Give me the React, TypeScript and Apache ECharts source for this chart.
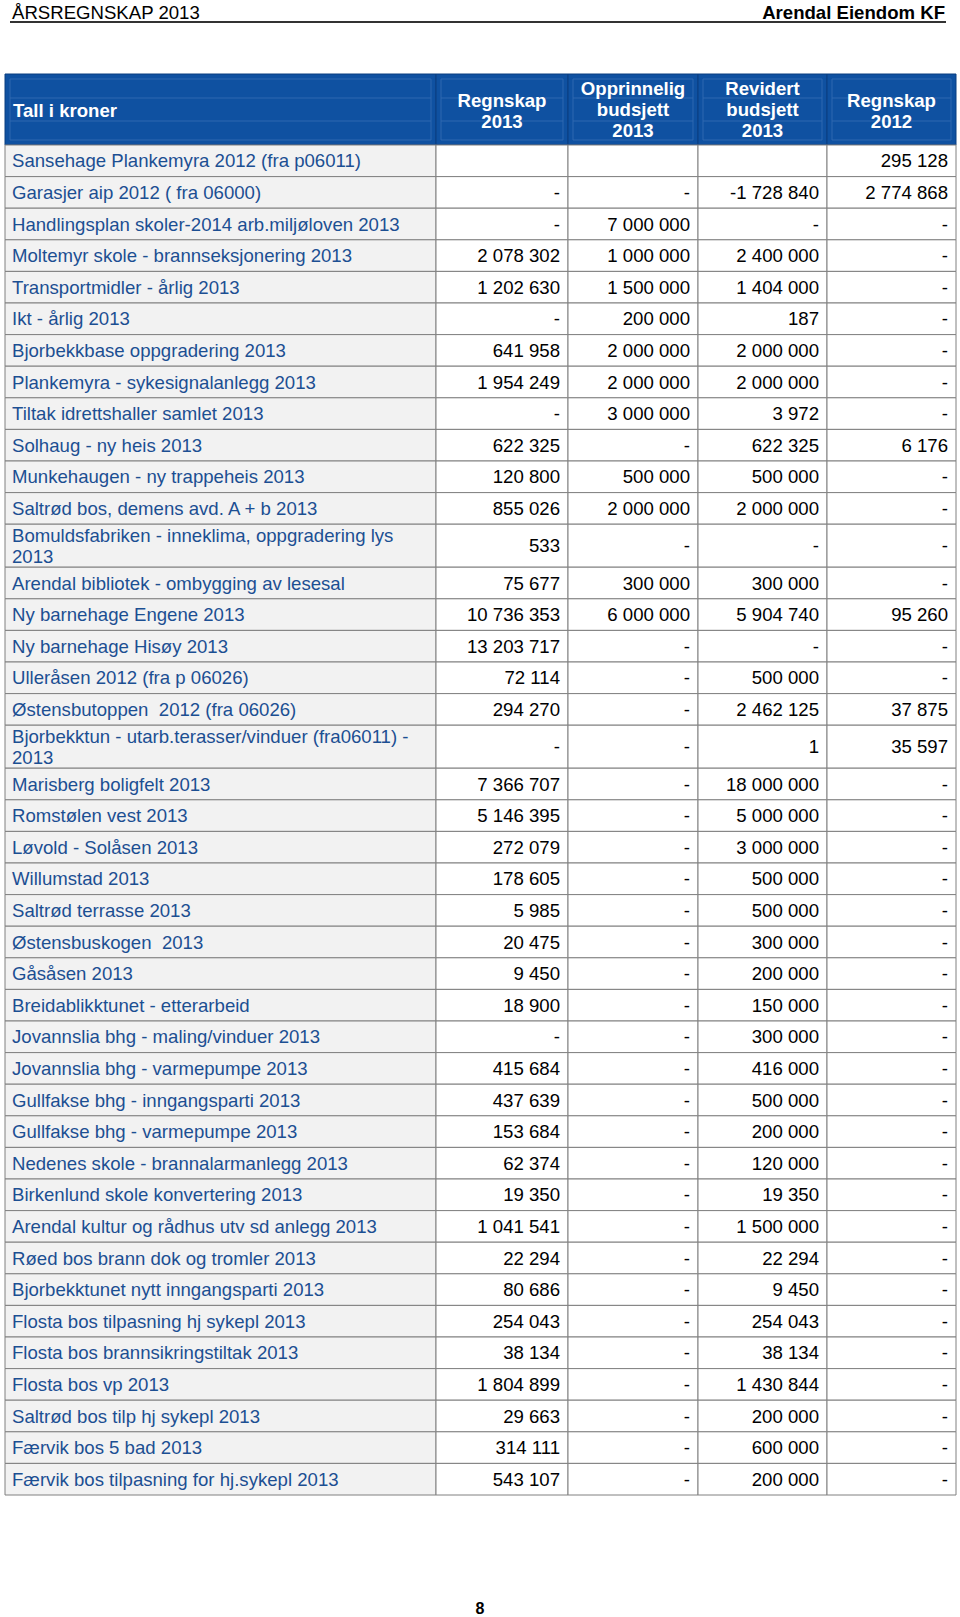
import React, { useEffect, useRef } from "react";
import * as echarts from "echarts";

// ---------- data ----------
const pageTitle = "ÅRSREGNSKAP 2013";
const pageOrg = "Arendal Eiendom KF";
const pageNumber = "8";

const headerLabels = [
  "Tall i kroner",
  "Regnskap\n2013",
  "Opprinnelig\nbudsjett\n2013",
  "Revidert\nbudsjett\n2013",
  "Regnskap\n2012",
];

const rowLabels = [
  "Sansehage Plankemyra 2012 (fra p06011)",
  "Garasjer aip 2012 ( fra 06000)",
  "Handlingsplan skoler-2014 arb.miljøloven 2013",
  "Moltemyr skole - brannseksjonering 2013",
  "Transportmidler - årlig 2013",
  "Ikt - årlig 2013",
  "Bjorbekkbase oppgradering 2013",
  "Plankemyra - sykesignalanlegg 2013",
  "Tiltak idrettshaller samlet 2013",
  "Solhaug - ny heis 2013",
  "Munkehaugen - ny trappeheis 2013",
  "Saltrød bos, demens avd. A + b 2013",
  "Bomuldsfabriken - inneklima, oppgradering lys\n2013",
  "Arendal bibliotek - ombygging av lesesal",
  "Ny barnehage Engene 2013",
  "Ny barnehage Hisøy 2013",
  "Ulleråsen 2012 (fra p 06026)",
  "Østensbutoppen  2012 (fra 06026)",
  "Bjorbekktun - utarb.terasser/vinduer (fra06011) -\n2013",
  "Marisberg boligfelt 2013",
  "Romstølen vest 2013",
  "Løvold - Solåsen 2013",
  "Willumstad 2013",
  "Saltrød terrasse 2013",
  "Østensbuskogen  2013",
  "Gåsåsen 2013",
  "Breidablikktunet - etterarbeid",
  "Jovannslia bhg - maling/vinduer 2013",
  "Jovannslia bhg - varmepumpe 2013",
  "Gullfakse bhg - inngangsparti 2013",
  "Gullfakse bhg - varmepumpe 2013",
  "Nedenes skole - brannalarmanlegg 2013",
  "Birkenlund skole konvertering 2013",
  "Arendal kultur og rådhus utv sd anlegg 2013",
  "Røed bos brann dok og tromler 2013",
  "Bjorbekktunet nytt inngangsparti 2013",
  "Flosta bos tilpasning hj sykepl 2013",
  "Flosta bos brannsikringstiltak 2013",
  "Flosta bos vp 2013",
  "Saltrød bos tilp hj sykepl 2013",
  "Færvik bos 5 bad 2013",
  "Færvik bos tilpasning for hj.sykepl 2013",
];

// null = empty cell, 0 = "-"
const regnskap2013: (number | null)[] = [
  null, 0, 0, 2078302, 1202630, 0, 641958, 1954249, 0, 622325, 120800, 855026,
  533, 75677, 10736353, 13203717, 72114, 294270, 0, 7366707, 5146395, 272079,
  178605, 5985, 20475, 9450, 18900, 0, 415684, 437639, 153684, 62374, 19350,
  1041541, 22294, 80686, 254043, 38134, 1804899, 29663, 314111, 543107,
];

const opprinneligBudsjett2013: (number | null)[] = [
  null, 0, 7000000, 1000000, 1500000, 200000, 2000000, 2000000, 3000000, 0,
  500000, 2000000, 0, 300000, 6000000, 0, 0, 0, 0, 0, 0, 0, 0, 0, 0, 0, 0, 0,
  0, 0, 0, 0, 0, 0, 0, 0, 0, 0, 0, 0, 0, 0,
];

const revidertBudsjett2013: (number | null)[] = [
  null, -1728840, 0, 2400000, 1404000, 187, 2000000, 2000000, 3972, 622325,
  500000, 2000000, 0, 300000, 5904740, 0, 500000, 2462125, 1, 18000000,
  5000000, 3000000, 500000, 500000, 300000, 200000, 150000, 300000, 416000,
  500000, 200000, 120000, 19350, 1500000, 22294, 9450, 254043, 38134, 1430844,
  200000, 600000, 200000,
];

const regnskap2012: (number | null)[] = [
  295128, 2774868, 0, 0, 0, 0, 0, 0, 0, 6176, 0, 0, 0, 0, 95260, 0, 0, 37875,
  35597, 0, 0, 0, 0, 0, 0, 0, 0, 0, 0, 0, 0, 0, 0, 0, 0, 0, 0, 0, 0, 0, 0, 0,
];

// ---------- layout / style ----------
const TABLE_LEFT = 5;
const COL_EDGES = [0, 431, 563, 693, 822, 951]; // relative to table left
const HEADER_TOP = 74;
const HEADER_BOTTOM = 145;
const ROW_H = 31.6;
const ROW_H2 = 43;
const FONT = '"Liberation Sans", Arial, Helvetica, sans-serif';
const FS = 18.6;
const BLUE_HEAD = "#0f51a1";
const LABEL_BLUE = "#1c4f92";
const GRID_LINE = "#808080";

function fmt(v: number | null): string {
  if (v === null) return "";
  if (v === 0) return "-";
  const neg = v < 0;
  const s = String(Math.abs(v)).replace(/\B(?=(\d{3})+(?!\d))/g, " ");
  return (neg ? "-" : "") + s;
}

export default function App() {
  const ref = useRef<HTMLDivElement>(null);

  useEffect(() => {
    if (!ref.current) return;
    const chart = echarts.init(ref.current, undefined, { renderer: "svg" });

    const heights = rowLabels.map((l) => (l.includes("\n") ? ROW_H2 : ROW_H));
    const tops: number[] = [];
    let acc = 0;
    heights.forEach((h) => {
      tops.push(acc);
      acc += h;
    });
    const total = acc;
    const columns = [regnskap2013, opprinneligBudsjett2013, revidertBudsjett2013, regnskap2012];
    const seriesData = rowLabels.map((_, i) => [i, tops[i], tops[i] + heights[i]]);

    const renderItem = (params: any, api: any) => {
      const i = api.value(0);
      const top = api.value(1);
      const bot = api.value(2);
      const y0 = api.coord([0, top])[1];
      const y1 = api.coord([0, bot])[1];
      const xs = COL_EDGES.map((c) => api.coord([c, top])[0]);
      const ym = (y0 + y1) / 2;
      const children: any[] = [];
      for (let k = 0; k < 5; k++) {
        children.push({
          type: "rect",
          shape: { x: xs[k], y: y0, width: xs[k + 1] - xs[k], height: y1 - y0 },
          style: { fill: k === 0 ? "#f2f2f2" : "#ffffff", stroke: GRID_LINE, lineWidth: 1 },
        });
      }
      children.push({
        type: "text",
        x: xs[0] + 7,
        y: ym,
        style: {
          text: rowLabels[i],
          fill: LABEL_BLUE,
          font: `${FS}px ${FONT}`,
          lineHeight: 21,
          align: "left",
          verticalAlign: "middle",
          textAlign: "left",
          textVerticalAlign: "middle",
        },
      });
      for (let k = 0; k < 4; k++) {
        children.push({
          type: "text",
          x: xs[k + 2] - 8,
          y: ym,
          style: {
            text: fmt(columns[k][i]),
            fill: "#000000",
            font: `${FS}px ${FONT}`,
            align: "right",
            verticalAlign: "middle",
            textAlign: "right",
            textVerticalAlign: "middle",
          },
        });
      }
      return { type: "group", children };
    };

    // header graphic
    const headerEls: any[] = [];
    const hMid = (HEADER_TOP + HEADER_BOTTOM) / 2;
    for (let k = 0; k < 5; k++) {
      const x = TABLE_LEFT + COL_EDGES[k];
      const w = COL_EDGES[k + 1] - COL_EDGES[k];
      headerEls.push({
        type: "rect",
        shape: { x, y: HEADER_TOP, width: w, height: HEADER_BOTTOM - HEADER_TOP },
        style: { fill: BLUE_HEAD, stroke: "#0b3f80", lineWidth: 1 },
        z: 1,
      });
      headerEls.push({
        type: "rect",
        shape: { x: x + 5, y: HEADER_TOP + 5, width: w - 10, height: HEADER_BOTTOM - HEADER_TOP - 10 },
        style: { fill: "none", stroke: "#2f68b0", lineWidth: 1 },
        z: 2,
      });
      [98, 121].forEach((yy) =>
        headerEls.push({
          type: "line",
          shape: { x1: x + 5, y1: yy, x2: x + w - 5, y2: yy },
          style: { stroke: "#2f68b0", lineWidth: 1 },
          z: 2,
        })
      );
      headerEls.push({
        type: "text",
        x: k === 0 ? x + 8 : x + w / 2,
        y: k === 0 ? hMid + 1 : hMid + (headerLabels[k].split("\n").length === 3 ? 0 : 1),
        z: 3,
        style: {
          text: headerLabels[k],
          fill: "#ffffff",
          font: `bold ${FS}px ${FONT}`,
          lineHeight: 21,
          align: k === 0 ? "left" : "center",
          verticalAlign: "middle",
          textAlign: k === 0 ? "left" : "center",
          textVerticalAlign: "middle",
        },
      });
    }

    chart.setOption({
      animation: false,
      backgroundColor: "#ffffff",
      grid: { left: TABLE_LEFT, top: HEADER_BOTTOM, width: COL_EDGES[5], height: total },
      xAxis: { type: "value", min: 0, max: COL_EDGES[5], show: false },
      yAxis: { type: "value", min: 0, max: total, inverse: true, show: false },
      series: [
        {
          type: "custom",
          clip: false,
          renderItem,
          encode: { x: 0, y: [1, 2] },
          data: seriesData,
          silent: true,
        },
      ],
      graphic: [
        {
          type: "text",
          x: 12,
          y: 12,
          style: {
            text: pageTitle,
            fill: "#000000",
            font: `${FS}px ${FONT}`,
            align: "left",
            verticalAlign: "middle",
            textAlign: "left",
            textVerticalAlign: "middle",
          },
        },
        {
          type: "text",
          x: 945,
          y: 12,
          style: {
            text: pageOrg,
            fill: "#000000",
            font: `bold ${FS}px ${FONT}`,
            align: "right",
            verticalAlign: "middle",
            textAlign: "right",
            textVerticalAlign: "middle",
          },
        },
        {
          type: "line",
          shape: { x1: 10, y1: 22, x2: 946, y2: 22 },
          style: { stroke: "#333333", lineWidth: 2 },
        },
        ...headerEls,
        {
          type: "text",
          x: 480,
          y: 1608,
          style: {
            text: pageNumber,
            fill: "#000000",
            font: `bold 16px ${FONT}`,
            align: "center",
            verticalAlign: "middle",
            textAlign: "center",
            textVerticalAlign: "middle",
          },
        },
      ],
    });

    return () => chart.dispose();
  }, []);

  return (
    <div
      ref={ref}
      style={{ position: "absolute", left: 0, top: 0, width: 960, height: 1617 }}
    />
  );
}
